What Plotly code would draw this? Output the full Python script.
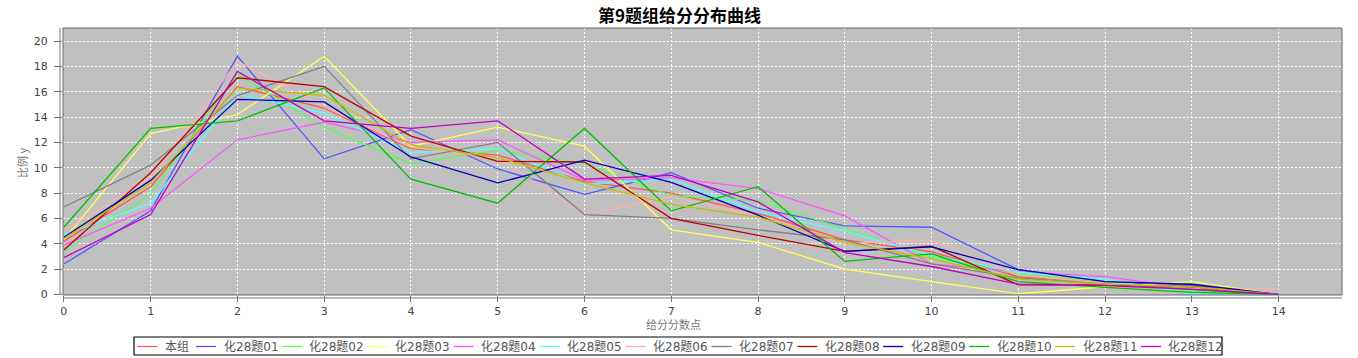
import plotly.graph_objects as go

x_points = list(range(15))
series_names = ["本组", "化28题01", "化28题02", "化28题03", "化28题04", "化28题05", "化28题06",
                "化28题07", "化28题08", "化28题09", "化28题10", "化28题11", "化28题12"]

s_benzu = [4.2, 8.5, 16.4, 14.7, 11.5, 11.0, 8.9, 8.0, 6.4, 4.3, 3.35, 1.4, 0.9, 0.55, 0]
s01 = [2.4, 6.6, 18.8, 10.7, 13.0, 9.9, 7.9, 9.6, 6.8, 5.4, 5.3, 1.95, 1.0, 0.7, 0]
s02 = [3.4, 7.9, 17.4, 13.2, 10.3, 11.4, 10.3, 7.8, 7.4, 5.2, 2.95, 1.6, 1.0, 0.3, 0]
s03 = [4.3, 12.7, 14.2, 18.8, 11.7, 13.2, 11.7, 5.1, 4.1, 2.0, 1.0, 0.05, 0.6, 1.0, 0]
s04 = [3.9, 6.8, 12.2, 13.6, 12.0, 12.2, 9.0, 9.2, 8.35, 6.2, 2.4, 1.8, 1.4, 0.5, 0]
s05 = [4.7, 7.2, 15.8, 14.3, 11.2, 11.5, 8.7, 9.1, 6.5, 5.0, 3.1, 1.75, 1.2, 0.05, 0]
s06 = [5.0, 9.2, 18.4, 14.8, 11.6, 10.8, 6.3, 7.7, 6.2, 4.0, 4.3, 1.5, 0.9, 0.5, 0.45]
s07 = [6.9, 10.2, 15.7, 18.0, 10.7, 12.0, 6.3, 6.0, 5.1, 4.3, 2.4, 1.3, 0.8, 0.4, 0]
s08 = [3.5, 9.6, 17.1, 16.4, 12.5, 10.5, 10.45, 6.0, 4.65, 3.4, 3.8, 0.75, 0.75, 0.6, 0]
s09 = [4.5, 9.0, 15.4, 15.2, 10.85, 8.8, 10.6, 8.85, 6.25, 3.4, 3.75, 1.95, 1.0, 0.8, 0]
s10 = [5.3, 13.1, 13.7, 16.3, 9.1, 7.2, 13.1, 6.6, 8.5, 2.6, 3.2, 1.0, 0.55, 0.15, 0]
s11 = [4.4, 8.8, 16.3, 15.7, 11.8, 10.8, 8.8, 7.1, 6.1, 4.1, 2.8, 1.2, 0.8, 0.6, 0]
s12 = [2.9, 6.3, 17.6, 13.7, 13.1, 13.7, 9.1, 9.4, 7.3, 3.3, 2.2, 0.8, 0.7, 0.4, 0]

all_series = [s_benzu, s01, s02, s03, s04, s05, s06, s07, s08, s09, s10, s11, s12]
colors = ["#FF5555", "#5555FF", "#55FF55", "#FFFF55", "#FF55FF", "#55FFFF", "#FFAFAF",
          "#808080", "#C00000", "#0000C0", "#00C000", "#C0C000", "#C000C0"]

x_ticks = list(range(15))
y_ticks = list(range(0, 21, 2))

W, H = 1358, 358
ML, MR, MT, MB = 63, 16, 28, 63
PW = W - ML - MR
PH = H - MT - MB


def px_x(px):
    return (px - ML) / PW


def px_y(py):
    return (H - MB - py) / PH


font_fam = "DejaVu Sans, Noto Sans CJK SC, sans-serif"
cjk_fam = "Noto Sans CJK SC, DejaVu Sans, sans-serif"

fig = go.Figure()
for name, vals, col in zip(series_names, all_series, colors):
    fig.add_trace(go.Scatter(x=x_points, y=vals, mode="lines", name=name,
                             line=dict(color=col, width=1.3), showlegend=False))

fig.update_layout(
    width=W, height=H,
    margin=dict(l=ML, r=MR, t=MT, b=MB),
    paper_bgcolor="white",
    plot_bgcolor="#C0C0C0",
    font=dict(family=font_fam, size=11, color="#444444"),
    showlegend=False,
    xaxis=dict(range=[-0.01, 14.73], tickmode="array", tickvals=x_ticks, automargin=False,
               showgrid=True, gridcolor="white", griddash="2px,2px", gridwidth=1,
               zeroline=False, showline=False,
               ticks="outside", ticklen=6, tickcolor="#777777", ticklabelstandoff=0,
               tickfont=dict(size=11, color="#444444")),
    yaxis=dict(range=[-0.05, 21.03], tickmode="array", tickvals=y_ticks, automargin=False,
               showgrid=True, gridcolor="white", griddash="2px,2px", gridwidth=1,
               zeroline=False, showline=False,
               ticks="outside", ticklen=8, tickcolor="#777777", ticklabelstandoff=4,
               tickfont=dict(size=11, color="#444444")),
)

# chart title
fig.add_annotation(text="<b>第9题组给分分布曲线</b>", xref="paper", yref="paper",
                   x=px_x(679), y=px_y(14), showarrow=False, xanchor="center", yanchor="middle",
                   font=dict(family=cjk_fam, size=17, color="#000000"))

# plot border
fig.add_shape(type="rect", xref="paper", yref="paper", x0=0, y0=0, x1=1, y1=1,
              line=dict(color="#666666", width=1), fillcolor="rgba(0,0,0,0)", layer="above")
# offset axis lines
fig.add_shape(type="line", xref="paper", yref="paper", x0=px_x(63), x1=1, y0=px_y(298), y1=px_y(298),
              line=dict(color="#777777", width=1))
fig.add_shape(type="line", xref="paper", yref="paper", x0=px_x(60), x1=px_x(60), y0=0, y1=1,
              line=dict(color="#777777", width=1))

# axis titles
fig.add_annotation(text="给分分数点", xref="paper", yref="paper", x=px_x(673), y=px_y(324),
                   showarrow=False, xanchor="center", yanchor="middle",
                   font=dict(family=cjk_fam, size=11, color="#777777"))
fig.add_annotation(text="比例 y", xref="paper", yref="paper", x=px_x(22), y=px_y(163),
                   showarrow=False, xanchor="center", yanchor="middle", textangle=-90,
                   font=dict(family=cjk_fam, size=11, color="#777777"))

# legend box
fig.add_shape(type="rect", xref="paper", yref="paper", x0=px_x(134), x1=px_x(1222),
              y0=px_y(355), y1=px_y(337), line=dict(color="#000000", width=1.2), fillcolor="white")
for i, (name, col) in enumerate(zip(series_names, colors)):
    if i == 0:
        sx = 137.5
    else:
        sx = 196 + 85.9 * (i - 1)
    ly = px_y(346.5)
    fig.add_shape(type="line", xref="paper", yref="paper", x0=px_x(sx), x1=px_x(sx + 20),
                  y0=ly, y1=ly, line=dict(color=col, width=1.3))
    fig.add_annotation(text=name, xref="paper", yref="paper", x=px_x(sx + 25.5), y=ly,
                       showarrow=False, xanchor="left", yanchor="middle",
                       font=dict(family=font_fam, size=12, color="#555555"))

fig.write_html("out.html", config={"displayModeBar": False},
               post_script="document.body.style.margin='0';document.body.style.padding='0';")
